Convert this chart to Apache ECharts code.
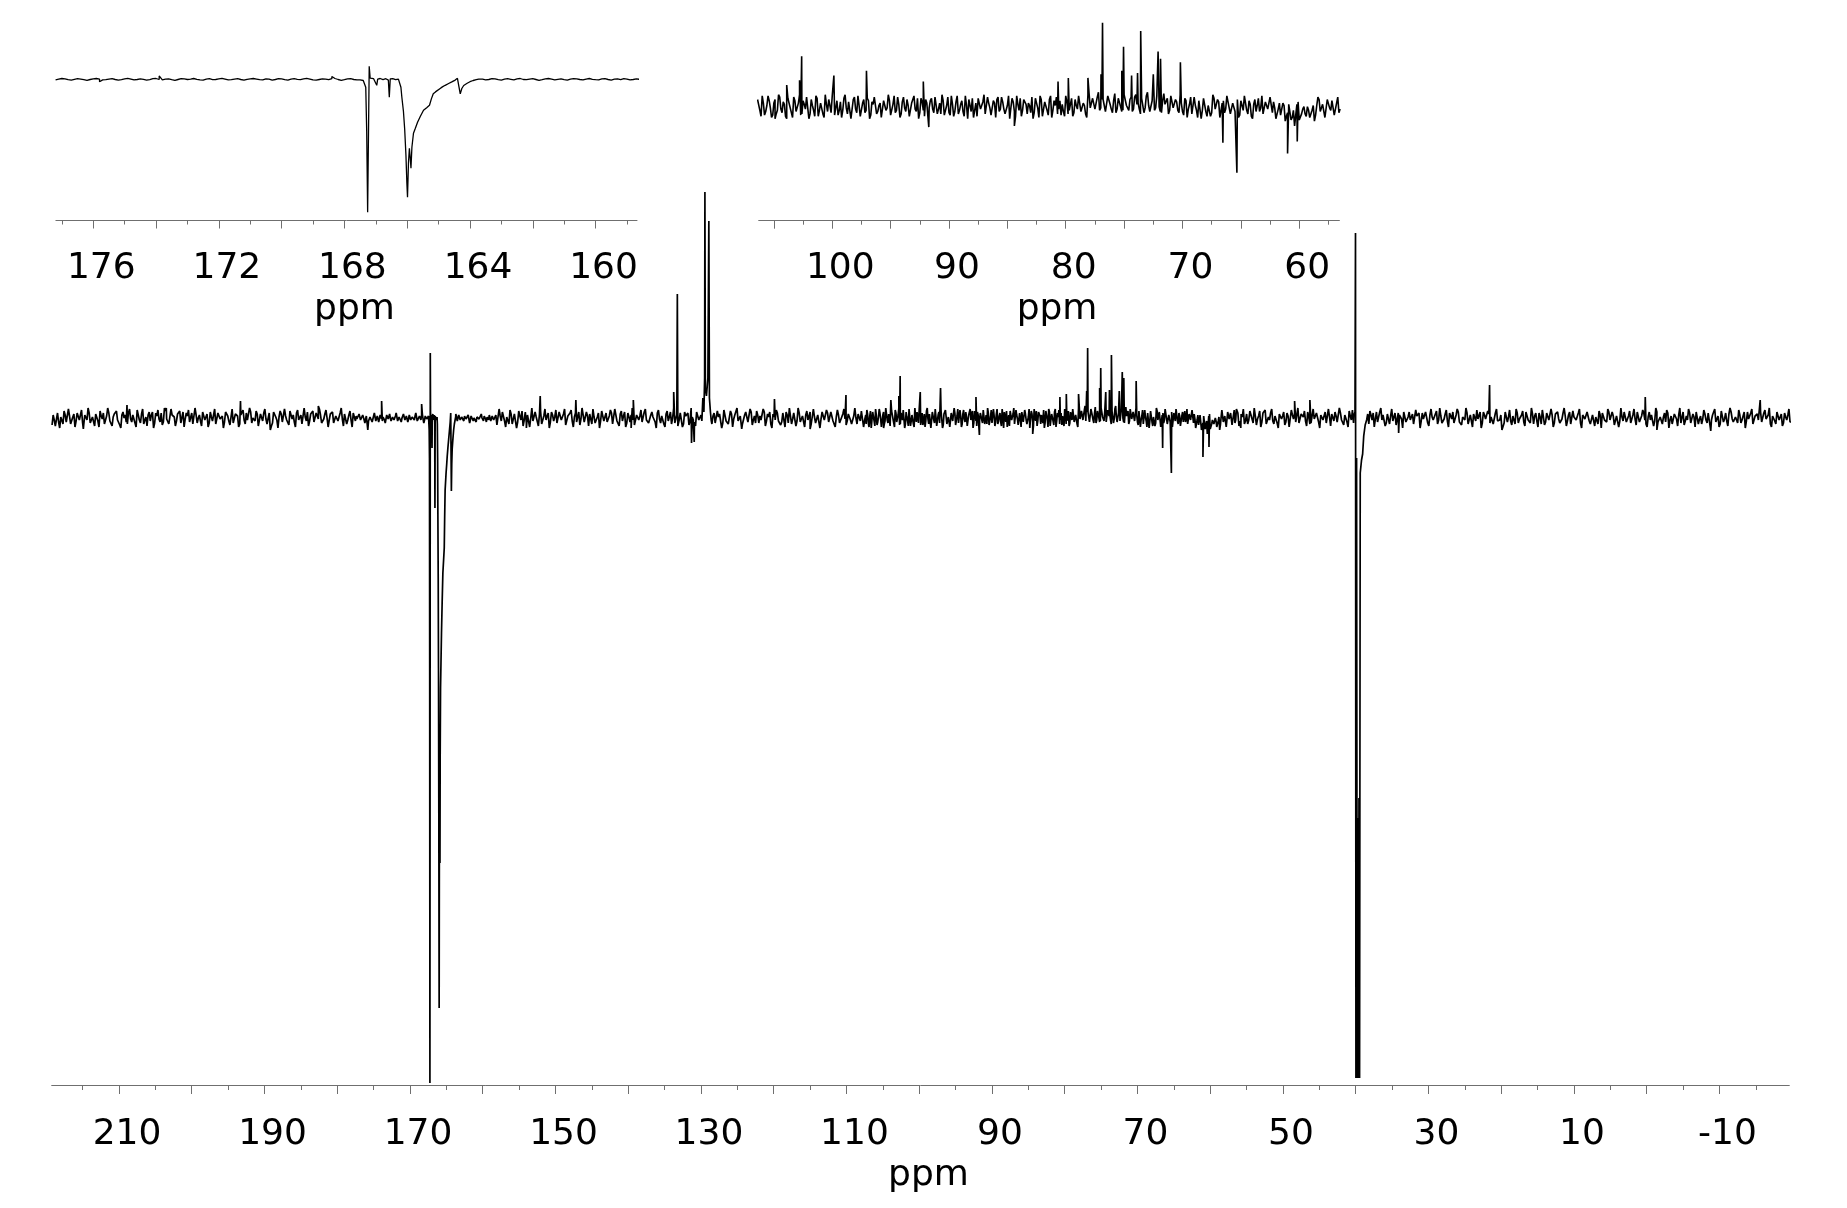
<!DOCTYPE html>
<html lang="en">
<head>
<meta charset="UTF-8">
<title>APT spectrum</title>
<script src="https://cdn.jsdelivr.net/npm/echarts@6.0.0/dist/echarts.min.js"></script>
<style>html,body{margin:0;padding:0;background:#fff}</style>
</head>
<body>
<div id="chart" style="width:1847px;height:1208px"></div>
<script>
// baseline noise (intensity in arbitrary units, baseline = 0)
var noiseA = [ // 219.2 -> 177.5 ppm, step 0.3
  -7,-2,-9,-4,1,-6,3,-5,2,-8,4,-3,6,-1,-5,3,-2,5,-6,2,
  4,-3,7,-1,-6,2,5,-4,1,6,-2,-7,3,0,-4,5,-1,3,-5,8,
  -2,4,-6,1,3,-3,6,-5,2,-1,5,-4,7,-2,-6,3,1,-3,4,-5,
  6,-1,2,-4,5,-7,3,0,-3,6,-2,4,-5,1,3,-6,5,-1,2,-4,
  7,-3,1,-5,4,2,-6,3,-2,5,-4,6,0,-3,4,-7,2,5,-1,-4,
  3,-5,6,-2,1,4,-6,2,-3,7,-1,-4,5,-2,3,-5,1,6,-3,2,
  -4,5,-1,3,-6,4,0,-2,6,-5,2,-3,5,-1,4,-6,3,-2,5,-3
];
var noiseA2 = [ // 219.05 -> 177.35 ppm, step 0.3
  3,-8,5,-10,2,7,-4,9,-6,1,-9,5,-2,8,-7,4,10,-5,1,-8,
  6,-9,2,5,-7,10,-3,-8,4,7,-1,-10,6,3,-6,9,-4,2,-9,7,
  -5,9,-2,-8,6,3,-10,5,8,-4,-7,10,-1,-6,9,2,-8,4,7,-3,
  -9,5,8,-2,-6,10,-5,3,-8,7,1,-9,6,-3,9,-7,4,-1,-10,6,
  2,-7,9,-4,5,-9,3,8,-6,-2,10,-5,1,7,-8,4,-3,9,-6,5,
  -8,6,1,-10,7,-4,9,-2,-7,5,3,-9,8,-1,-6,10,-3,-8,4,7,
  -6,3,9,-5,-1,8,-9,4,6,-7,2,-4,10,-8,5,-2,7,-9,3,1
];
var noiseB = [ // 177.4 -> 158.5 ppm, step 0.1
  2,-1,-3,1,4,2,-2,-4,0,3,1,-2,-5,-1,2,4,1,-3,-2,
  1,3,-1,-4,-2,2,5,1,-3,-1,2,0,-4,-2,3,4,-1,-3,1,
  2,-2,-5,-1,3,2,-1,1,4,0,-3,-4,1,3,-2,-1,2,5,1,
  -3,-2,1,3,-1,-4,0,2,4,1,-2,-3,2,1,-4,-1,3,2,-2,
  -4,1,3,0,-2,2,5,1,-3,-4,-1,2,1,-2,3,4,-1,-5,-2,
  2,3,-1,-3,1,4,0,-2,-4,1,2,-1,3,5,1,-3,-2,0,2,
  4,1,-2,-4,-1,3,2,-3,-1,1,4,2,-2,-5,0,3,1,-2,2,
  -1,-4,-2,2,4,1,-3,-1,3,2,-2,-4,1,3,0,-3,2,4,-1,
  -2,1,3,-1,-5,-2,2,4,1,-3,0,2,-2,-4,1,3,2,-1,-3,
  1,4,0,-2,-3,2,3,-1,-4,1,2,-2,3,1,-3,-1,2,0,-2
];
var noiseC = [ // 158.2 -> 107.5 ppm, step 0.3
  3,-5,2,6,-3,1,-6,4,-1,5,-4,2,7,-2,-5,3,0,
  -3,6,-1,4,-6,2,-2,5,-4,3,1,-5,6,-2,4,-7,2,
  5,-3,1,-4,6,-1,3,-5,2,4,-6,1,-2,5,-3,7,-1,
  -4,2,5,-6,3,-1,4,-3,6,-5,1,3,-2,-6,4,2,-4,
  6,-2,-5,3,1,-4,5,-1,2,-6,4,-3,6,0,-5,3,-2,
  4,-6,2,5,-3,1,-4,6,-2,3,-5,2,-1,4,-6,5,-3,
  1,3,-5,6,-2,-4,4,-1,5,-3,2,-6,3,1,-4,6,-2,
  -5,3,2,-4,6,-3,1,-6,4,-2,5,-1,-4,3,6,-5,2,
  -1,4,-3,5,-6,2,3,-2,6,-4,1,-5,4,-1,2,-3,5,
  -2,6,-4,1,3,-5,4,-1,-3,5,-6,2,0,4,-3,6,-2
];
var noiseC2 = [ // 158.05 -> 107.35 ppm, step 0.3
  -7,9,-3,5,-9,2,8,-6,4,-10,7,-2,-8,6,3,-9,10,
  -4,1,-8,7,-5,9,2,-10,6,-3,8,-7,4,-1,9,-6,3,
  8,-9,5,-2,-7,10,-4,6,-8,3,9,-5,1,-10,7,-3,5,
  -1,8,-6,9,-3,-8,7,2,-9,5,-4,10,-7,3,-2,8,-6,
  9,-4,-7,6,2,-10,8,-5,3,-9,7,1,-6,10,-3,-8,5,
  -9,6,3,-7,10,-2,-8,5,-4,9,-6,4,8,-10,2,-5,7,
  4,-10,8,-3,-6,7,-9,3,10,-5,1,-8,6,-4,9,-7,2,
  7,-5,-2,9,-8,4,6,-10,1,8,-3,-7,5,-9,3,10,-6,
  5,-8,10,-4,2,-9,7,-1,-6,9,-5,3,-10,6,-2,8,-4,
  6,-3,-9,8,-5,1,9,-7,4,-2,-8,10,-6,2,7,-9,3
];
var noiseD = [ // 107.3 -> 56.5 ppm, step 0.2
  -6,4,-9,7,-2,5,-8,3,-4,9,-1,-7,6,-3,8,
  -5,2,-10,6,-1,8,-4,3,-7,5,-2,9,-6,1,-8,
  7,-3,4,-9,2,6,-5,8,-1,-7,4,-3,10,-6,3,
  -2,8,-5,1,-9,6,-3,5,-7,2,9,-4,3,-8,6,
  -1,5,-7,9,-3,2,-6,8,-4,1,-9,6,-2,7,-5,
  4,-8,3,-1,7,-5,9,-2,-6,5,-3,8,-7,2,-4,
  9,-3,5,-8,1,6,-4,-9,3,7,-2,4,-6,8,-1,
  -7,3,6,-4,8,-2,-5,9,-1,4,-8,2,7,-3,5,
  -6,1,8,-5,3,-9,6,-2,4,-7,9,-3,1,-6,5,
  2,-8,4,-3,7,-5,1,9,-4,3,-6,10,-1,7,-2,
  8,-3,6,1,-4,9,-2,5,-5,7,0,-3,10,-1,6,
  -4,8,2,-2,7,-5,9,1,-3,6,-1,8,-4,5,2,
  7,-3,9,-1,4,-5,3,-7,5,-2,8,-6,1,-9,4,
  -3,6,-8,2,-5,7,-1,4,-9,5,-2,8,-6,3,-4,
  6,-7,1,9,-3,5,-8,2,-4,7,-1,-6,4,-2,8,
  -5,-1,-9,3,-6,1,-8,2,-11,-3,-7,4,-10,-2,-6,
  0,-9,-3,-12,1,6,-5,2,-8,7,-3,4,-6,8,-2
];
var noiseD2 = [ // 107.2 -> 56.4 ppm, step 0.2
  8,-5,2,-10,6,-3,9,-7,1,5,-9,3,-6,10,-2,
  4,-8,7,-1,-9,5,-4,10,-6,2,8,-10,6,-3,9,
  -8,3,-6,10,-4,1,9,-7,5,-3,-9,7,-1,4,-10,
  6,-2,9,-8,3,-5,7,-10,4,8,-6,1,-9,5,-3,
  10,-7,2,-5,8,-9,4,-1,6,-8,3,9,-4,-10,7,
  -3,6,-9,5,-2,8,-6,3,10,-7,1,-5,9,-8,4,
  -6,2,-4,9,-10,5,7,-3,-8,6,-1,10,-5,3,-7,
  5,-9,8,-2,4,-6,1,-10,7,-4,9,-3,-8,6,2,
  3,-5,-10,7,-1,9,-8,4,-3,6,-9,5,8,-2,-7,
  -4,9,-6,2,-8,6,-2,10,-5,1,-9,11,-2,8,-3,
  12,-1,6,-4,9,2,-5,11,-2,7,-4,10,1,-3,8,
  -2,10,3,-6,8,-1,12,-4,5,-3,9,0,-5,11,2,
  -6,9,-1,6,-3,10,-4,7,-9,2,-6,8,-3,5,-10,
  7,-4,1,-8,10,-2,6,-9,3,-5,9,-1,-7,4,-3,
  -9,5,-3,8,-6,2,-10,6,1,-4,9,-7,3,-2,7,
  4,-10,-2,-7,3,-12,-5,1,-9,-4,2,-11,-6,0,-8,
  -3,-10,1,-7,8,-4,2,-9,6,-1,5,-7,3,-5,9
];
var noiseE = [ // 56.2 -> -19.7 ppm, step 0.3
  5,-3,1,-6,4,-2,6,-5,2,-1,7,-4,3,-6,1,5,-3,2,-5,4,
  -1,6,-4,2,-7,3,5,-2,-5,4,1,-3,6,-6,2,-1,5,-4,3,-2,
  6,-5,1,4,-3,2,-6,5,-1,3,-4,7,-2,-5,4,1,-3,6,-4,2,
  -6,3,5,-1,-4,6,-2,1,-5,4,2,-3,5,-6,3,-1,6,-4,1,-2,
  4,-6,2,5,-3,-1,6,-5,3,1,-4,7,-2,2,-6,4,-3,5,-1,-5,
  3,6,-4,1,-2,5,-6,2,4,-3,-1,6,-5,3,-2,4,1,-6,5,-3,
  -2,4,-5,6,1,-3,2,-6,5,-1,3,-4,6,-2,-5,4,2,-3,5,-6,
  1,-4,6,-2,3,-5,4,-1,-6,5,2,-3,6,-4,1,-2,5,-5,3,-1,
  6,-3,-5,4,1,-6,3,5,-2,-4,6,-1,2,-5,4,-3,1,6,-4,2,
  -5,3,-1,6,-4,2,5,-6,1,-2,4,-3,6,-5,3,1,-4,5,-2,-6,
  4,-1,3,-5,6,-3,-2,5,-4,1,6,-6,2,-1,4,-5,3,-2,5,-4,
  2,-6,5,-1,-3,4,6,-4,1,-5,3,-2,6,-3,-1,5,-6,2,4,-2,
  -4,5,-1,3,-6,2,-3,6,-2,4,-5,1,3,-4
];
var noiseE2 = [ // 56.05 -> -19.85 ppm, step 0.3
  -8,4,9,-3,-6,7,-1,10,-7,2,-9,5,8,-4,-2,9,-6,3,-10,6,
  2,-7,5,-9,8,-1,-4,10,-6,3,7,-8,1,-5,9,-3,6,-10,4,-2,
  -5,9,-8,3,6,-4,10,-2,-7,5,-9,2,8,-6,-1,7,-3,9,-8,4,
  7,-2,-9,6,-5,10,3,-8,4,-6,9,-1,-7,5,2,-10,8,-4,6,-3,
  -6,8,1,-10,5,-3,7,-8,9,-2,4,-6,10,-5,-1,8,-9,3,6,-7,
  9,-4,-7,2,10,-6,3,-9,5,8,-3,-10,6,-1,7,-5,2,-8,9,-2,
  3,-10,6,-4,8,-7,1,9,-5,-2,7,-8,4,-3,10,-6,5,-9,1,8,
  -7,5,-2,9,-9,4,6,-5,-1,10,-8,3,-6,7,2,-4,9,-10,5,-3,
  8,-6,3,-8,1,7,-10,5,-4,9,-2,6,-7,2,-9,10,-3,4,-6,7,
  -1,9,-7,4,-5,8,-2,-9,6,3,-8,10,-4,1,-6,5,8,-10,2,-5,
  6,-8,10,-3,-7,2,9,-5,4,-9,7,-1,-6,8,-2,5,-10,3,9,-4,
  -9,7,-4,5,-8,10,-1,-6,3,8,-5,2,-10,6,-3,9,-7,4,-2,6,
  -5,8,-3,10,-9,4,-6,7,1,-8,5,-2,9,-4
];

// peak shapes [ppm, intensity]; they replace the noise over their span
var peak167 = [
  [167.50,-3],[167.45,2],[167.40,-6],[167.36,-12],[167.32,-40],[167.29,-260],[167.26,-665],[167.23,-665],
  [167.21,65],[167.18,6],[167.13,-2],[167.07,3],[167.01,-4],[166.97,-30],[166.94,1],[166.86,4],[166.77,-2],
  [166.68,3],[166.60,-4],[166.57,-90],[166.54,2],[166.46,3],[166.37,-2],[166.28,1],[166.24,-6],[166.20,-40],
  [166.17,-90],[166.12,-160],[166.08,-250],[166.04,-380],[166.01,-520],[165.99,-590],[165.96,-420],[165.93,-345],
  [165.90,-400],[165.88,-445],[165.85,-340],[165.80,-270],[165.74,-245],[165.67,-215],[165.58,-185],[165.48,-155],
  [165.38,-142],[165.29,-130],[165.23,-98],[165.17,-72],[165.10,-63],[165.04,-55],[164.95,-46],[164.88,-38],
  [164.79,-30],[164.68,-21],[164.58,-13],[164.47,-4],[164.40,5],[164.35,3],[164.31,-73],[164.26,-46],
  [164.20,-31],[164.14,-25],[164.09,-20],[164.00,-12],[163.90,-6],[163.80,-2],[163.72,1]
];
var peak133 = [[133.32,3],[133.25,124],[133.18,-8]];
var peak129 = [
  [129.88,-3],[129.74,20],[129.60,6],[129.50,40],[129.46,226],[129.40,30],[129.25,22],
  [129.05,40],[128.92,197],[128.84,20],[128.70,6],[128.60,-2]
];
var peakDmso = [
  [40.25,2],[40.10,6],[40.03,185],[39.97,-660],[39.88,-40],[39.80,-660],[39.72,-400],[39.64,-660],
  [39.55,-380],[39.47,-660],[39.38,-55],[39.20,-42],[39.05,-36],[38.90,-18],[38.70,-7],[38.50,-2]
];
// single sharp lines
var spikes = [
  [214.9,-11],[208.9,13],[203.5,10],[193.3,17],[189.2,-12],[182.6,12],[175.8,-12],[173.9,17],[168.4,14],
  [154.0,-10],[152.1,22],[147.2,18],[139.6,-10],[139.3,18],[133.75,26],[131.3,-25],[130.93,-24],
  [124.4,-11],[119.9,19],[115.0,-11],[110.07,23],[104.9,-10],[103.9,18],[102.8,22],[102.62,42],
  [99.86,26],[97.07,30],[92.2,21],[91.73,-17],[84.4,-16],[80.66,21],[79.78,24],[78.1,24],[76.98,27],
  [76.85,70],[75.2,30],[75.05,50],[74.36,26],[73.85,28],[73.58,63],[72.5,27],[72.09,46],[71.88,40],
  [70.18,37],[66.54,-30],[65.34,-55],[61.0,-39],[60.4,-16],[60.17,-29],[55.8,-10],[48.4,17],[46.3,18],
  [34.1,-15],[21.6,33],[19.9,-12],[0.2,21],[-1.4,-12],[-8.8,-13],[-15.6,18]
];

// axis ticks and labels
var mainMajor = [210,200,190,180,170,160,150,140,130,120,110,100,90,80,70,60,50,40,30,20,10,0,-10];
var mainMinor = [215,205,195,185,175,165,155,145,135,125,115,105,95,85,75,65,55,45,35,25,15,5,-5,-15];
var mainLabels = [210,190,170,150,130,110,90,70,50,30,10,-10];
var insetOneMajor = [176,174,172,170,168,166,164,162,160];
var insetOneMinor = [177,175,173,171,169,167,165,163,161,159];
var insetOneLabels = [176,172,168,164,160];
var insetTwoMajor = [105,100,95,90,85,80,75,70,65,60];
var insetTwoMinor = [102.5,97.5,92.5,87.5,82.5,77.5,72.5,67.5,62.5,57.5];
var insetTwoLabels = [100,90,80,70,60];

var segments = [
  {start: 219.2, step: 0.3, vals: noiseA},
  {start: 219.05, step: 0.3, vals: noiseA2},
  {start: 177.4, step: 0.1, vals: noiseB},
  {start: 158.2, step: 0.3, vals: noiseC},
  {start: 158.05, step: 0.3, vals: noiseC2},
  {start: 107.3, step: 0.2, vals: noiseD},
  {start: 107.2, step: 0.2, vals: noiseD2},
  {start: 56.2, step: 0.3, vals: noiseE},
  {start: 56.05, step: 0.3, vals: noiseE2}
];
var shapes = [peak167, peak133, peak129, peakDmso];

function buildSpectrum() {
  var pts = [];
  segments.forEach(function (s) {
    s.vals.forEach(function (v, i) {
      pts.push([Math.round((s.start - i * s.step) * 100) / 100, v]);
    });
  });
  shapes.forEach(function (g) {
    var hi = g[0][0], lo = g[g.length - 1][0];
    pts = pts.filter(function (p) { return p[0] > hi || p[0] < lo; });
    pts = pts.concat(g);
  });
  pts = pts.concat(spikes);
  pts.sort(function (a, b) { return b[0] - a[0]; });
  return pts;
}

// window of the spectrum, one point past each edge so the line reaches the frame
function cut(pts, lo, hi) {
  var out = [];
  for (var i = 0; i < pts.length; i++) {
    var x = pts[i][0];
    if (x <= hi && x >= lo) {
      if (!out.length && i > 0) out.push(pts[i - 1]);
      out.push(pts[i]);
    } else if (out.length && x < lo) {
      out.push(pts[i]);
      break;
    }
  }
  return out;
}

function axisPair(grid, lo, hi, major, minor, labels, len, margin, gap) {
  var grey = '#6f6f6f';
  var txt = {fontFamily: 'DejaVu Sans', fontSize: 36, color: '#000', padding: [0, 0, 0, 16]};
  return [{
    type: 'value', gridIndex: grid, min: lo, max: hi, inverse: true, position: 'bottom',
    axisLine: {show: true, onZero: false, lineStyle: {color: grey, width: 1}},
    axisTick: {show: true, length: len, customValues: major, lineStyle: {color: grey}},
    axisLabel: {show: true, margin: margin, customValues: labels, fontFamily: txt.fontFamily,
      fontSize: txt.fontSize, color: txt.color, padding: txt.padding},
    splitLine: {show: false},
    name: 'ppm', nameLocation: 'middle', nameGap: gap, nameTextStyle: txt
  }, {
    type: 'value', gridIndex: grid, min: lo, max: hi, inverse: true, position: 'bottom',
    axisLine: {show: false, onZero: false},
    axisTick: {show: true, length: len - 4, customValues: minor, lineStyle: {color: grey}},
    axisLabel: {show: false},
    splitLine: {show: false}
  }];
}

initChart();
function initChart() {
  var spec = buildSpectrum();
  var myChart = echarts.init(document.getElementById('chart'));
  var xAxes = []
    .concat(axisPair(0, -19.6, 219.25, mainMajor, mainMinor, mainLabels, 9, 32, 68))
    .concat(axisPair(1, 158.68, 177.19, insetOneMajor, insetOneMinor, insetOneLabels, 8, 30, 71))
    .concat(axisPair(2, 56.56, 106.3, insetTwoMajor, insetTwoMinor, insetTwoLabels, 8, 30, 71));
  var option = {
    animation: false,
    backgroundColor: '#fff',
    grid: [
      {left: 51.7, top: 150, width: 1737.6, height: 935, outerBoundsMode: 'none'},
      {left: 55.9, top: 40, width: 581.1, height: 180.5, outerBoundsMode: 'none'},
      {left: 758.7, top: 10, width: 580.7, height: 210.7, outerBoundsMode: 'none'}
    ],
    xAxis: xAxes,
    yAxis: [
      {type: 'value', gridIndex: 0, min: -667, max: 268, show: false},
      {type: 'value', gridIndex: 1, min: -706, max: 196.5, show: false},
      {type: 'value', gridIndex: 2, min: -95, max: 80.6, show: false}
    ],
    series: [
      {type: 'line', xAxisIndex: 0, yAxisIndex: 0, data: spec, symbol: 'none', clip: true,
        lineStyle: {color: '#000', width: 1.7}},
      {type: 'line', xAxisIndex: 2, yAxisIndex: 1, data: cut(spec, 158.68, 177.19), symbol: 'none', clip: true,
        lineStyle: {color: '#000', width: 1.3}},
      {type: 'line', xAxisIndex: 4, yAxisIndex: 2, data: cut(spec, 56.56, 106.3), symbol: 'none', clip: true,
        lineStyle: {color: '#000', width: 1.6}}
    ]
  };
  myChart.setOption(option, true);
}
</script>
</body>
</html>
